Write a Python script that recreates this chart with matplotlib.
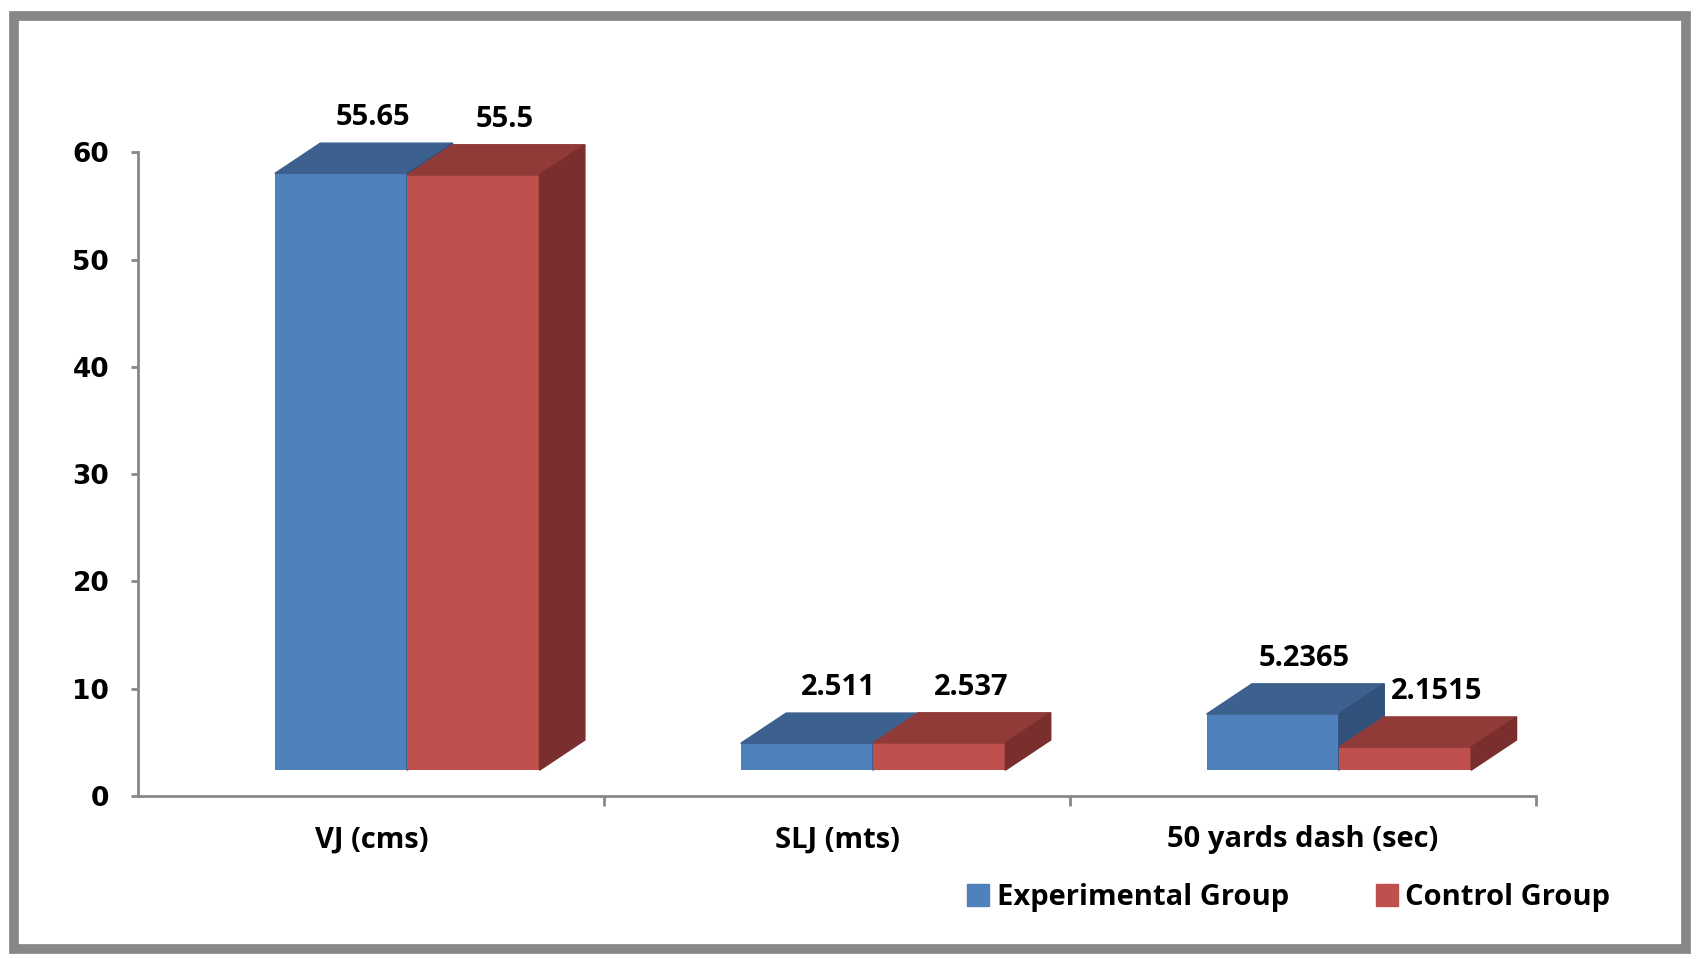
import matplotlib
matplotlib.use("Agg")
import matplotlib.pyplot as plt
from matplotlib.patches import Polygon, Patch, Rectangle

categories = ["VJ (cms)", "SLJ (mts)", "50 yards dash (sec)"]
experimental = [55.65, 2.511, 5.2365]
control = [55.5, 2.537, 2.1515]
series_names = ["Experimental Group", "Control Group"]

# front / top / side shades for the pseudo-3D boxes
BLUE = ("#4F81BD", "#3C618F", "#31507A")
RED = ("#C0504D", "#913B39", "#7A2F2E")

FLOOR = 2.4      # lift of the front faces above the axis
DX, DY = 0.0975, 2.82  # depth of each box
W = 0.284        # bar width
OFF = 0.077      # shift of the pair from the category center

fig = plt.figure(figsize=(16.96, 9.59), dpi=100)
ax = fig.add_axes([0.0816, 0.170, 0.824, 0.671])

def draw_box(x0, value, shades):
    front, top, side = shades
    ax.bar(x0, value, bottom=FLOOR, width=W, align="edge", color=front,
           edgecolor="none", zorder=3, clip_on=False)
    y1 = FLOOR + value
    ax.add_patch(Polygon([(x0, y1), (x0 + DX, y1 + DY), (x0 + W + DX, y1 + DY), (x0 + W, y1)],
                         closed=True, color=top, zorder=3, clip_on=False))
    ax.add_patch(Polygon([(x0 + W, FLOOR), (x0 + W, y1), (x0 + W + DX, y1 + DY), (x0 + W + DX, FLOOR + DY)],
                         closed=True, color=side, zorder=3, clip_on=False))
    ax.annotate(f"{value:g}", (x0 + W / 2 + 0.7 * DX, y1 + DY), xytext=(0, 8),
                textcoords="offset points", ha="center", va="bottom",
                fontsize=21, fontweight="bold", family="Open Sans", zorder=5,
                annotation_clip=False)

for i in range(len(categories)):
    draw_box(i + OFF - W, experimental[i], BLUE)
    draw_box(i + OFF, control[i], RED)

ax.set_xlim(-0.5, 2.5)
ax.set_ylim(0, 60)
ax.set_yticks(range(0, 61, 10))
ax.set_xticks(range(len(categories)))
ax.set_xticklabels(categories)
ax.set_xticks([0.5, 1.5, 2.5], minor=True)

for s in ("top", "right"):
    ax.spines[s].set_visible(False)
for s in ("left", "bottom"):
    ax.spines[s].set_color("#878787")
    ax.spines[s].set_linewidth(2)

ax.tick_params(axis="y", length=5, width=2, color="#878787", pad=16,
               labelsize=19)
ax.tick_params(axis="x", which="major", length=0, pad=21, labelsize=21)
ax.tick_params(axis="x", which="minor", length=7, width=2, color="#878787")
for lab in ax.get_yticklabels():
    lab.set_fontweight("bold")
    lab.set_family("DejaVu Sans")
for lab in ax.get_xticklabels():
    lab.set_fontweight("bold")
    lab.set_family("Open Sans")

handles = [Patch(color=BLUE[0]), Patch(color=RED[0])]
fig.legend(handles, series_names, loc="center", bbox_to_anchor=(0.76, 0.064),
           ncol=2, frameon=False, handlelength=0.75, handleheight=0.75,
           handletextpad=0.25, columnspacing=3.0,
           prop={"family": "Open Sans", "weight": "bold", "size": 21})

# outer gray frame
fig.patches.append(Rectangle((0.008, 0.010), 0.986, 0.973, transform=fig.transFigure,
                             fill=False, edgecolor="#878787", linewidth=7))

fig.savefig("out.png", dpi=100, facecolor="white")
